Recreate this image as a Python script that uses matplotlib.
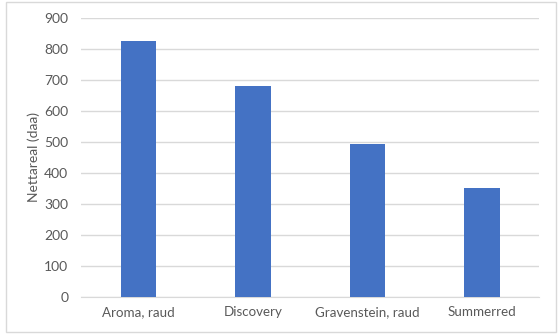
import matplotlib.pyplot as plt
from matplotlib.patches import Rectangle

varieties = ['Aroma, raud', 'Discovery', 'Gravenstein, raud', 'Summerred']
area = [827, 680, 493, 350]
yticks = [0, 100, 200, 300, 400, 500, 600, 700, 800, 900]

plt.rcParams['font.family'] = ['Lato', 'DejaVu Sans']

fig = plt.figure(figsize=(5.6, 3.34), dpi=100)
ax = fig.add_axes([0.1455, 0.1117, 0.817, 0.8343])

# chart border
fig.patches.append(Rectangle((6 / 560, 2 / 334), 550 / 560, 330 / 334,
                             transform=fig.transFigure, fill=False,
                             edgecolor='#d9d9d9', lw=1))

x = range(len(varieties))
ax.bar(x, area, width=0.31, color='#4472C4', zorder=3)

ax.set_xlim(-0.5, len(varieties) - 0.5)
ax.set_ylim(0, 900)
ax.set_yticks(yticks)
ax.set_xticks(list(x))
ax.set_xticklabels(varieties)
ax.yaxis.grid(True, color='#d9d9d9', lw=1, zorder=0)
for s in ['top', 'right', 'left']:
    ax.spines[s].set_visible(False)
ax.spines['bottom'].set_color('#d9d9d9')
ax.tick_params(axis='y', length=0, labelsize=10, colors='#595959', pad=9.5)
ax.tick_params(axis='x', length=0, labelsize=9.6, colors='#595959', pad=6.5)
ax.set_ylabel('Nettareal (daa)', fontsize=10, color='#595959', labelpad=3)

fig.savefig('out.png', dpi=100)
